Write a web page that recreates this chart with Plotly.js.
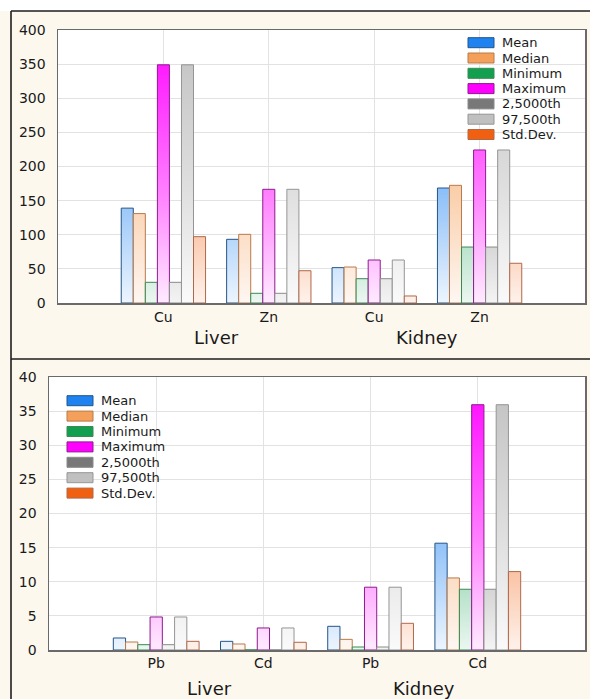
<!DOCTYPE html>
<html>
<head>
<meta charset="utf-8">
<script src="https://cdn.plot.ly/plotly-3.0.1.min.js"></script>
<style>
  html, body { margin: 0; padding: 0; background: #ffffff; }
  #chart { width: 590px; height: 699px; }
</style>
</head>
<body>
<div id="chart"></div>
<script>
// ---------------- data ----------------
const seriesNames = ["Mean", "Median", "Minimum", "Maximum", "2,5000th", "97,500th", "Std.Dev."];

const topOrgans   = ["Liver", "Liver", "Kidney", "Kidney"];
const topElements = ["Cu", "Zn", "Cu", "Zn"];
const botOrgans   = ["Liver", "Liver", "Kidney", "Kidney"];
const botElements = ["Pb", "Cd", "Pb", "Cd"];

// top panel (Cu, Zn)
const topMean   = [139, 93.3, 51.8, 168.5];
const topMedian = [131, 100.6, 52.7, 172.4];
const topMin    = [30.3, 14.2, 35.6, 82];
const topMax    = [349, 166.6, 63, 224.2];
const topP025   = [30.3, 14.2, 35.6, 82];
const topP975   = [349, 166.6, 63, 224.2];
const topStd    = [97.2, 47.3, 10.3, 58.2];

// bottom panel (Pb, Cd)
const botMean   = [1.76, 1.27, 3.47, 15.65];
const botMedian = [1.17, 0.88, 1.56, 10.56];
const botMin    = [0.78, 0.02, 0.44, 8.9];
const botMax    = [4.84, 3.23, 9.2, 35.94];
const botP025   = [0.78, 0.02, 0.44, 8.9];
const botP975   = [4.84, 3.23, 9.2, 35.94];
const botStd    = [1.27, 1.13, 3.91, 11.49];

const topValues = [topMean, topMedian, topMin, topMax, topP025, topP975, topStd];
const botValues = [botMean, botMedian, botMin, botMax, botP025, botP975, botStd];

// ---------------- style ----------------
const fillColors = ["#1e82f0", "#f5a05a", "#12a050", "#ff00ff", "#787878", "#c0c0c0", "#f06010"];
const lineColors = ["#24548a", "#b87a4a", "#3a8a52", "#8e1a8e", "#8a8a8a", "#959595", "#b0684a"];

const W = 590, H = 699;
const px = x => x / W;
const py = y => 1 - y / H;

const topCats = topOrgans.map((o, i) => o + " " + topElements[i]);
const botCats = botOrgans.map((o, i) => o + " " + botElements[i]);

const FAM = "DejaVu Sans, Arial, sans-serif";
const tickFont = { family: FAM, size: 14, color: "#1a1a1a" };
const catFont  = { family: FAM, size: 14, color: "#1a1a1a" };
const orgFont  = { family: FAM, size: 18, color: "#1a1a1a" };
const legFont  = { family: FAM, size: 13, color: "#1a1a1a" };

const data = [];
seriesNames.forEach((name, s) => {
  data.push({
    type: "bar", name: name, x: topCats, y: topValues[s], xaxis: "x", yaxis: "y",
    marker: { color: fillColors[s], line: { color: lineColors[s], width: 1 } },
    showlegend: false, hoverinfo: "skip"
  });
});
seriesNames.forEach((name, s) => {
  data.push({
    type: "bar", name: name, x: botCats, y: botValues[s], xaxis: "x2", yaxis: "y2",
    marker: { color: fillColors[s], line: { color: lineColors[s], width: 1 } },
    showlegend: false, hoverinfo: "skip"
  });
});

const FRAME = "#6a6a6a";
const axisLine = { showline: true, mirror: true, linecolor: FRAME, linewidth: 1.5,
                   showgrid: true, gridcolor: "#e2e2e2", gridwidth: 1, zeroline: false, fixedrange: true };
const tickOnly = { showline: false, showgrid: false, zeroline: false, showticklabels: false,
                   ticks: "outside", ticklen: 3, tickcolor: FRAME, tickwidth: 1, fixedrange: true };

const shapes = [
  // white strip above the top border
  { type: "rect", xref: "paper", yref: "paper", x0: 0, x1: 1, y0: py(11), y1: 1,
    fillcolor: "#ffffff", line: { width: 0 }, layer: "below" },
  // panel borders
  { type: "line", xref: "paper", yref: "paper", x0: px(11), x1: 1, y0: py(11), y1: py(11),
    line: { color: "#1e1e1e", width: 1.6 } },
  { type: "line", xref: "paper", yref: "paper", x0: px(11), x1: px(11), y0: py(11), y1: 0,
    line: { color: "#1e1e1e", width: 1.6 } },
  { type: "line", xref: "paper", yref: "paper", x0: px(11), x1: 1, y0: py(359), y1: py(359),
    line: { color: "#1e1e1e", width: 1.6 } }
];

const annotations = [];
// organ labels
[["x", 337], ["x2", 688]].forEach(([xr, yc]) => {
  annotations.push({ xref: xr, yref: "paper", x: 0.5, y: py(yc), text: "Liver", showarrow: false,
                     font: orgFont, xanchor: "center", yanchor: "middle" });
  annotations.push({ xref: xr, yref: "paper", x: 2.5, y: py(yc), text: "Kidney", showarrow: false,
                     font: orgFont, xanchor: "center", yanchor: "middle" });
});

// custom legends
function addLegend(swX, txtX, y0, step) {
  seriesNames.forEach((name, s) => {
    const yc = y0 + s * step;
    shapes.push({ type: "rect", xref: "paper", yref: "paper",
      x0: px(swX), x1: px(swX + 26), y0: py(yc + 5), y1: py(yc - 5),
      fillcolor: fillColors[s], line: { color: lineColors[s], width: 1 } });
    annotations.push({ xref: "paper", yref: "paper", x: px(txtX), y: py(yc), text: name,
      showarrow: false, font: legFont, xanchor: "left", yanchor: "middle", borderpad: 0 });
  });
}
addLegend(468, 501, 42.7, 15.3);
addLegend(67, 100, 400.7, 15.4);

const layout = {
  width: W, height: H,
  margin: { l: 0, r: 0, t: 0, b: 0 },
  paper_bgcolor: "#fdf8ee",
  plot_bgcolor: "#ffffff",
  barmode: "group", bargap: 0.2, bargroupgap: 0,
  showlegend: false,
  xaxis: Object.assign({}, axisLine, { domain: [px(58), px(585)], anchor: "y", type: "category",
    categoryorder: "array", categoryarray: topCats,
    range: [-1, 4], tickvals: topCats, ticktext: topElements, tickfont: catFont,
    ticks: "outside", ticklen: 0, ticklabelstandoff: 1 }),
  yaxis: Object.assign({}, axisLine, { domain: [py(303), py(30)], anchor: "x",
    range: [0, 400], tick0: 0, dtick: 50, tickfont: tickFont,
    ticks: "outside", ticklen: 0, ticklabelstandoff: 8 }),
  xaxis2: Object.assign({}, axisLine, { domain: [px(49), px(585)], anchor: "y2", type: "category",
    categoryorder: "array", categoryarray: botCats,
    range: [-1, 4], tickvals: botCats, ticktext: botElements, tickfont: catFont,
    ticks: "outside", ticklen: 0, ticklabelstandoff: 0 }),
  yaxis2: Object.assign({}, axisLine, { domain: [py(650), py(377)], anchor: "x2",
    range: [0, 40], tick0: 0, dtick: 5, tickfont: tickFont,
    ticks: "outside", ticklen: 0, ticklabelstandoff: 8 }),
  // tick marks on the right and top frame edges
  xaxis3: Object.assign({}, tickOnly, { overlaying: "x", anchor: "y", side: "top",
    range: [-1, 4], tickvals: [0, 1, 2, 3] }),
  yaxis3: Object.assign({}, tickOnly, { overlaying: "y", anchor: "x", side: "right",
    range: [0, 400], tick0: 0, dtick: 50 }),
  xaxis4: Object.assign({}, tickOnly, { overlaying: "x2", anchor: "y2", side: "top",
    range: [-1, 4], tickvals: [0, 1, 2, 3] }),
  yaxis4: Object.assign({}, tickOnly, { overlaying: "y2", anchor: "x2", side: "right",
    range: [0, 40], tick0: 0, dtick: 5 }),
  shapes: shapes,
  annotations: annotations
};

function mix(hex, t) {
  const r = parseInt(hex.slice(1, 3), 16), g = parseInt(hex.slice(3, 5), 16), b = parseInt(hex.slice(5, 7), 16);
  const m = c => Math.round(c + (255 - c) * t);
  return "rgb(" + m(r) + "," + m(g) + "," + m(b) + ")";
}

const gd = document.getElementById("chart");
Plotly.newPlot(gd, data, layout, { staticPlot: true, displayModeBar: false }).then(function () {
  const NS = "http://www.w3.org/2000/svg";
  const svg = gd.querySelector("svg.main-svg");
  let defs = svg.querySelector("defs");
  if (!defs) { defs = document.createElementNS(NS, "defs"); svg.insertBefore(defs, svg.firstChild); }
  [["xy", "yaxis"], ["x2y2", "yaxis2"]].forEach(([sp, yname]) => {
    const plotH = gd._fullLayout[yname]._length;
    const traces = gd.querySelectorAll(".subplot." + sp + " .barlayer .trace");
    traces.forEach((tr, i) => {
      const id = "grad_" + sp + "_" + i;
      const lg = document.createElementNS(NS, "linearGradient");
      lg.setAttribute("id", id);
      lg.setAttribute("gradientUnits", "userSpaceOnUse");
      lg.setAttribute("x1", "0"); lg.setAttribute("x2", "0");
      lg.setAttribute("y1", "0"); lg.setAttribute("y2", String(plotH));
      [[0, 0], [0.6, 0.5], [1, 0.92]].forEach(([off, t]) => {
        const st = document.createElementNS(NS, "stop");
        st.setAttribute("offset", String(off));
        st.setAttribute("stop-color", mix(fillColors[i], t));
        lg.appendChild(st);
      });
      defs.appendChild(lg);
      tr.querySelectorAll("path").forEach(p => { p.style.fill = "url(#" + id + ")"; });
    });
  });
});
</script>
</body>
</html>
